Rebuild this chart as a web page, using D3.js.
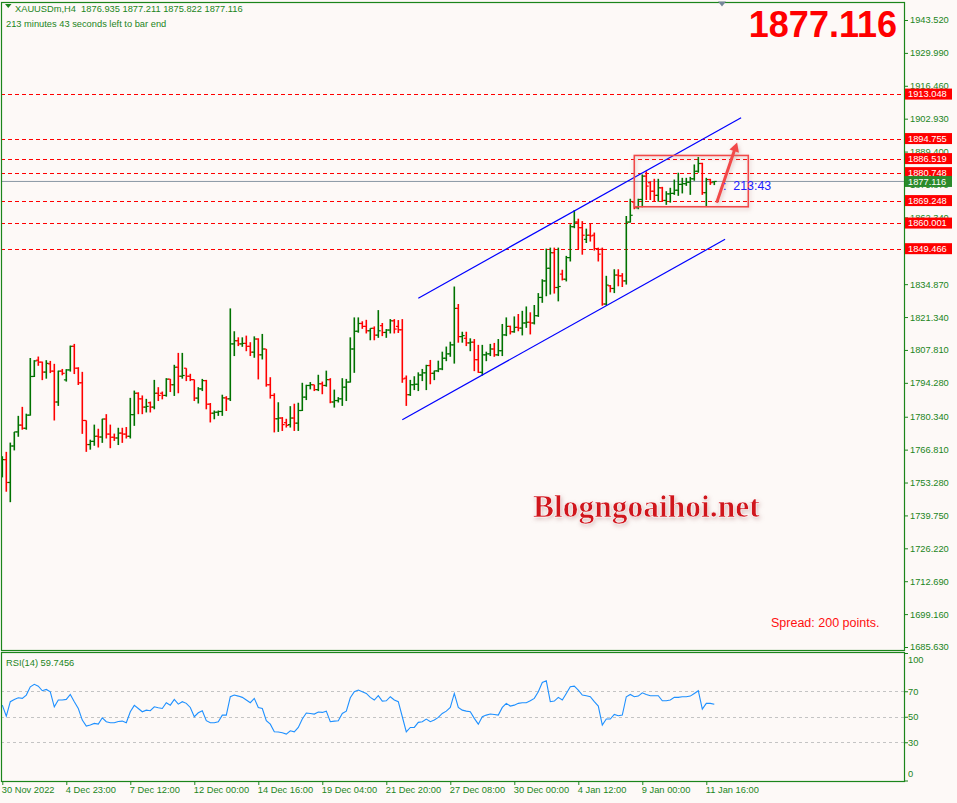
<!DOCTYPE html>
<html>
<head>
<meta charset="utf-8">
<script src="https://cdn.jsdelivr.net/npm/d3@7"></script>
<style>
    body { margin: 0; background: #fdf9f7; }
    svg { display: block; }
</style>
</head>
<body>
<svg id="chart" width="957" height="803"></svg>
<script>
(function () {

    // H4 bars, 30 Nov 2022 -> 11 Jan 2023
    var opens = [
        1757.0, 1762.7, 1753.3, 1768.3, 1774.1, 1776.9, 1775.6, 1781.0, 1796.9, 1803.6,
        1802.8, 1798.7, 1802.1, 1799.1, 1786.4, 1799.1, 1795.5, 1799.6, 1809.3, 1800.3,
        1794.3, 1778.8, 1768.9, 1770.2, 1772.3, 1772.0, 1779.4, 1773.2, 1771.9, 1771.6,
        1773.6, 1773.2, 1772.3, 1781.2, 1790.0, 1787.7, 1784.3, 1786.1, 1784.3, 1790.0,
        1790.0, 1789.1, 1795.8, 1793.5, 1800.7, 1797.0, 1800.3, 1797.0, 1795.6, 1788.0,
        1791.8, 1795.2, 1785.5, 1781.8, 1782.2, 1782.5, 1788.1, 1787.7, 1810.3, 1811.6,
        1810.3, 1810.5, 1809.3, 1806.9, 1812.3, 1805.8, 1808.2, 1793.5, 1789.1, 1779.5,
        1779.8, 1777.9, 1777.1, 1779.8, 1777.7, 1782.9, 1788.4, 1793.2, 1793.5, 1791.5,
        1793.9, 1793.2, 1795.6, 1786.4, 1787.0, 1787.7, 1792.5, 1794.6, 1808.2, 1815.5,
        1818.7, 1817.5, 1815.7, 1816.7, 1813.9, 1817.8, 1815.0, 1816.0, 1819.8, 1817.5,
        1816.1, 1796.2, 1789.4, 1793.5, 1793.7, 1797.5, 1798.4, 1801.4, 1798.2, 1799.2,
        1800.0, 1804.4, 1806.2, 1809.9, 1824.9, 1813.3, 1812.6, 1810.7, 1811.0, 1803.8,
        1798.6, 1805.8, 1806.2, 1808.2, 1805.8, 1807.5, 1814.0, 1817.5, 1815.3, 1817.1,
        1816.8, 1818.9, 1819.2, 1818.9, 1821.9, 1829.4, 1836.2, 1841.4, 1847.8, 1833.5,
        1839.0, 1836.9, 1845.8, 1858.5, 1860.4, 1858.1, 1853.3, 1855.0, 1855.0, 1849.5,
        1849.2, 1826.7, 1834.2, 1833.1, 1838.6, 1838.3, 1836.2, 1860.4, 1868.6, 1866.3,
        1869.7, 1879.3, 1876.6, 1873.1, 1871.4, 1874.5, 1869.3, 1872.0, 1872.2, 1873.5,
        1875.9, 1876.2, 1876.8, 1878.2, 1881.3, 1884.5, 1872.5, 1877.9, 1876.935
    ];
    var highs = [
        1764.1, 1765.9, 1769.7, 1774.1, 1780.7, 1784.4, 1781.6, 1804.5, 1803.6, 1805.1,
        1803.0, 1803.6, 1803.3, 1802.1, 1799.3, 1800.0, 1799.9, 1809.6, 1810.3, 1800.7,
        1798.8, 1778.8, 1770.9, 1777.1, 1775.4, 1779.5, 1781.4, 1777.1, 1773.4, 1775.8,
        1775.8, 1776.1, 1788.1, 1791.1, 1790.4, 1789.1, 1787.7, 1786.6, 1795.5, 1792.5,
        1790.7, 1796.2, 1795.9, 1801.7, 1806.6, 1806.6, 1800.3, 1798.0, 1795.6, 1792.5,
        1795.9, 1795.5, 1786.0, 1782.9, 1782.9, 1789.4, 1788.8, 1824.9, 1815.5, 1813.0,
        1813.0, 1813.7, 1811.0, 1813.4, 1812.6, 1814.4, 1808.2, 1796.6, 1790.0, 1786.3,
        1780.2, 1779.5, 1784.7, 1785.7, 1786.1, 1794.3, 1793.5, 1794.6, 1793.5, 1797.6,
        1794.8, 1799.3, 1796.2, 1791.5, 1788.4, 1796.2, 1795.9, 1813.0, 1821.2, 1821.2,
        1819.6, 1820.2, 1816.7, 1817.5, 1824.2, 1818.9, 1816.4, 1820.5, 1820.5, 1820.1,
        1820.5, 1797.3, 1795.5, 1797.0, 1798.6, 1800.0, 1801.7, 1803.7, 1799.3, 1803.4,
        1807.1, 1809.2, 1811.2, 1833.9, 1826.7, 1815.3, 1815.3, 1812.6, 1812.3, 1809.9,
        1809.9, 1807.1, 1810.3, 1810.7, 1812.3, 1818.5, 1821.2, 1817.8, 1821.6, 1822.6,
        1823.9, 1825.7, 1823.3, 1826.3, 1831.2, 1836.9, 1849.5, 1849.9, 1849.9, 1849.9,
        1840.8, 1846.5, 1859.5, 1865.3, 1861.8, 1860.8, 1857.7, 1859.9, 1856.1, 1849.9,
        1849.9, 1838.3, 1834.5, 1841.0, 1841.0, 1839.4, 1862.9, 1870.0, 1869.0, 1870.0,
        1880.0, 1881.3, 1877.2, 1878.2, 1878.2, 1874.9, 1873.1, 1874.5, 1877.9, 1880.7,
        1878.6, 1878.6, 1879.0, 1884.1, 1887.2, 1884.8, 1878.6, 1878.2, 1877.211
    ];
    var lows = [
        1755.6, 1749.7, 1745.4, 1766.7, 1772.3, 1775.2, 1775.2, 1781.0, 1796.9, 1801.5,
        1795.6, 1796.2, 1798.5, 1779.0, 1785.0, 1797.6, 1795.0, 1799.1, 1798.1, 1793.6,
        1773.5, 1766.1, 1767.0, 1768.6, 1767.9, 1769.8, 1771.6, 1767.6, 1770.6, 1768.9,
        1769.8, 1771.6, 1771.6, 1776.8, 1781.6, 1781.6, 1782.3, 1782.3, 1783.6, 1787.0,
        1787.7, 1788.8, 1790.7, 1789.1, 1790.2, 1796.2, 1795.2, 1795.2, 1787.0, 1786.0,
        1791.1, 1783.6, 1778.2, 1779.5, 1780.9, 1780.9, 1782.9, 1787.0, 1805.5, 1809.6,
        1809.3, 1807.5, 1805.5, 1804.8, 1795.9, 1804.1, 1792.9, 1788.0, 1774.1, 1774.3,
        1774.7, 1776.1, 1776.1, 1774.7, 1774.7, 1782.9, 1787.4, 1791.8, 1791.1, 1791.1,
        1789.8, 1792.9, 1786.1, 1784.3, 1786.4, 1785.0, 1787.0, 1794.6, 1798.6, 1815.1,
        1816.7, 1814.8, 1812.0, 1812.0, 1813.0, 1813.7, 1813.0, 1814.8, 1814.8, 1815.0,
        1794.5, 1785.0, 1789.1, 1791.5, 1791.1, 1795.2, 1791.5, 1793.9, 1795.6, 1798.9,
        1799.7, 1803.4, 1805.2, 1802.4, 1811.0, 1811.0, 1809.6, 1807.5, 1799.3, 1798.6,
        1797.5, 1803.4, 1805.5, 1805.2, 1805.5, 1805.5, 1813.7, 1814.4, 1815.1, 1815.7,
        1814.0, 1817.1, 1814.4, 1818.5, 1821.6, 1827.4, 1830.1, 1830.8, 1831.2, 1828.0,
        1836.6, 1836.2, 1844.4, 1858.1, 1849.5, 1847.2, 1852.0, 1852.6, 1848.9, 1844.4,
        1826.2, 1826.3, 1831.7, 1831.4, 1834.2, 1833.9, 1834.9, 1860.4, 1865.9, 1865.9,
        1866.7, 1869.7, 1869.7, 1869.0, 1869.0, 1869.0, 1867.7, 1868.6, 1871.8, 1871.4,
        1872.4, 1875.5, 1871.8, 1877.6, 1880.9, 1871.8, 1867.0, 1875.9, 1875.822
    ];
    var closes = [
        1762.7, 1753.3, 1768.3, 1774.1, 1776.9, 1775.6, 1781.0, 1796.9, 1803.3, 1802.8,
        1798.7, 1802.3, 1799.1, 1786.4, 1799.1, 1798.2, 1799.6, 1809.3, 1800.3, 1794.3,
        1778.8, 1768.9, 1770.2, 1772.3, 1772.0, 1779.4, 1773.2, 1771.9, 1771.6, 1773.6,
        1773.2, 1772.3, 1781.2, 1790.0, 1787.7, 1784.3, 1784.6, 1784.3, 1790.0, 1789.1,
        1789.1, 1795.8, 1793.5, 1800.7, 1797.0, 1797.3, 1797.0, 1795.6, 1788.0, 1791.8,
        1795.2, 1785.5, 1781.8, 1782.2, 1782.5, 1788.1, 1787.7, 1810.3, 1811.6, 1810.3,
        1810.5, 1809.3, 1806.9, 1812.3, 1805.8, 1808.2, 1793.5, 1789.1, 1779.5, 1779.8,
        1777.1, 1776.8, 1779.8, 1777.7, 1782.9, 1788.4, 1793.2, 1793.5, 1791.5, 1793.9,
        1793.2, 1795.6, 1786.4, 1787.0, 1787.7, 1792.5, 1794.6, 1808.2, 1815.5, 1818.7,
        1817.5, 1815.7, 1816.7, 1813.9, 1815.7, 1815.0, 1816.0, 1819.8, 1816.4, 1816.1,
        1795.9, 1789.4, 1793.5, 1793.7, 1797.5, 1798.4, 1801.4, 1798.2, 1799.2, 1800.0,
        1804.4, 1806.2, 1809.9, 1824.9, 1813.3, 1813.7, 1810.7, 1811.0, 1803.8, 1798.6,
        1805.8, 1806.2, 1808.2, 1805.8, 1807.5, 1814.0, 1817.5, 1815.3, 1817.1, 1816.8,
        1818.9, 1819.2, 1818.9, 1821.9, 1829.4, 1836.2, 1841.4, 1847.8, 1833.5, 1833.9,
        1836.9, 1845.8, 1858.5, 1860.4, 1858.1, 1855.0, 1855.0, 1854.7, 1849.5, 1847.2,
        1826.7, 1834.5, 1833.1, 1838.6, 1838.3, 1836.2, 1860.4, 1863.2, 1866.3, 1869.7,
        1879.3, 1875.2, 1873.1, 1871.4, 1874.5, 1869.3, 1872.0, 1872.2, 1873.5, 1875.9,
        1876.2, 1876.8, 1878.2, 1881.3, 1884.5, 1872.5, 1877.9, 1876.6, 1877.116
    ];
    var rsiValues = [
        59.1, 50.5, 61.8, 63.6, 64.9, 64.4, 67.0, 73.5, 75.4, 74.0,
        70.4, 71.4, 69.6, 57.8, 63.1, 63.1, 63.6, 67.5, 61.8, 56.5,
        47.4, 42.7, 43.5, 44.8, 44.2, 49.2, 46.1, 45.3, 45.3, 46.3,
        46.6, 45.3, 53.9, 58.9, 56.5, 53.9, 55.2, 54.7, 57.8, 57.1,
        56.5, 61.0, 59.1, 63.6, 59.9, 61.8, 60.5, 57.3, 50.0, 53.1,
        54.7, 46.9, 45.3, 45.3, 46.1, 51.3, 51.3, 65.7, 67.0, 66.2,
        65.2, 63.1, 61.0, 64.4, 57.3, 56.5, 46.9, 44.2, 38.2, 38.0,
        37.5, 36.4, 39.0, 38.2, 41.6, 48.2, 52.9, 52.6, 52.1, 53.7,
        53.4, 54.4, 46.1, 46.6, 46.9, 52.6, 54.4, 64.9, 69.6, 70.9,
        69.6, 68.3, 65.2, 63.1, 66.5, 62.3, 62.5, 65.7, 63.1, 61.8,
        50.0, 38.2, 41.6, 41.6, 45.6, 46.1, 48.2, 46.1, 47.4, 49.5,
        52.6, 54.4, 57.3, 68.3, 57.3, 55.2, 54.4, 53.9, 48.7, 44.2,
        50.0, 51.3, 52.1, 51.8, 51.3, 57.3, 60.5, 58.4, 59.1, 60.5,
        61.0, 61.0, 62.5, 64.4, 69.6, 76.9, 78.2, 61.8, 62.3, 65.2,
        63.1, 68.3, 73.5, 74.0, 70.9, 67.0, 66.5, 65.7, 61.8, 58.4,
        43.5, 48.2, 48.2, 51.8, 50.8, 51.3, 65.7, 67.5, 65.7, 66.2,
        68.8, 67.5, 66.5, 66.5, 66.5, 62.5, 62.5, 63.1, 65.2, 65.2,
        65.7, 65.7, 66.2, 68.3, 70.4, 56.0, 60.5, 60.5, 59.7456
    ];

    var priceTicks = [
        '1943.520', '1929.990', '1916.460', '1902.930', '1889.400', '1875.870', '1862.340',
        '1848.810', '1834.870', '1821.340', '1807.810', '1794.280', '1780.340', '1766.810',
        '1753.280', '1739.750', '1726.220', '1712.690', '1699.160', '1685.630'
    ];
    var rsiTicks = [100, 70, 50, 30, 0];
    var rsiLevels = [70, 50, 30];
    var dateIndexes = [0, 16, 32, 48, 64, 80, 96, 112, 128, 144, 160, 176];
    var dateLabels = [
        '30 Nov 2022', '4 Dec 23:00', '7 Dec 12:00', '12 Dec 00:00', '14 Dec 16:00', '19 Dec 04:00',
        '21 Dec 20:00', '27 Dec 08:00', '30 Dec 00:00', '4 Jan 12:00', '9 Jan 00:00', '11 Jan 16:00'
    ];
    var levels = [1913.048, 1894.755, 1886.519, 1880.748, 1869.248, 1860.001, 1849.466];
    // drawn objects, as [bar index, price]
    var channelUpper = [[104, 1829.1], [184.7, 1903.3]];
    var channelLower = [[100, 1779.1], [180.7, 1853.3]];
    var boxCorners = [[158, 1887.8], [186.5, 1866.7]];
    var arrowPoints = [[178.7, 1868.9], [183.7, 1893.1]];

    var sans = '"Liberation Sans", Arial, sans-serif';
    var green = '#1b851b';
    var barGreen = '#007200';
    var red = '#ff0000';
    var left = 1, right = 904, mainTop = 2, mainBottom = 650, rsiTop = 652, rsiBottom = 781;
    var last = closes.length - 1;

    var svg = d3.select('#chart');
    var x = d3.scaleLinear().domain([0, 178]).range([2.3, 714.3]);
    var y = d3.scaleLinear().domain([1685.63, 1943.52]).range([647, 20]);
    var yr = d3.scaleLinear().domain([0, 100]).range([780.5, 653]);

    var defs = svg.append('defs');
    defs.append('clipPath').attr('id', 'mainClip')
        .append('rect').attr('x', left).attr('y', mainTop).attr('width', right - left).attr('height', mainBottom - mainTop);
    defs.append('clipPath').attr('id', 'rsiClip')
        .append('rect').attr('x', left).attr('y', rsiTop).attr('width', right - left).attr('height', rsiBottom - rsiTop);
    var soft = defs.append('filter').attr('id', 'soft')
        .attr('x', '-30%').attr('y', '-30%').attr('width', '160%').attr('height', '160%');
    soft.append('feGaussianBlur').attr('in', 'SourceAlpha').attr('stdDeviation', 2);
    soft.append('feOffset').attr('dx', 1).attr('dy', 2).attr('result', 'blur');
    soft.append('feFlood').attr('flood-color', '#b08080').attr('flood-opacity', 0.45);
    soft.append('feComposite').attr('in2', 'blur').attr('operator', 'in');
    var merge = soft.append('feMerge');
    merge.append('feMergeNode');
    merge.append('feMergeNode').attr('in', 'SourceGraphic');

    svg.append('rect').attr('width', 957).attr('height', 803).attr('fill', '#fdf9f7');

    drawMain();
    drawRsi();
    drawAxes();
    drawTexts();

    function drawMain() {
        var g = svg.append('g').attr('clip-path', 'url(#mainClip)');

        // current bid line
        g.append('line')
            .attr('x1', left).attr('x2', right)
            .attr('y1', y(closes[last])).attr('y2', y(closes[last]))
            .attr('stroke', '#8a97a4').attr('stroke-width', 1);

        g.selectAll('.level').data(levels).enter().append('line')
            .attr('class', 'level')
            .attr('x1', left).attr('x2', right)
            .attr('y1', function (d) { return Math.round(y(d)) + 0.5; })
            .attr('y2', function (d) { return Math.round(y(d)) + 0.5; })
            .attr('stroke', red).attr('stroke-width', 1).attr('stroke-dasharray', '4,3');

        var bars = g.selectAll('.bar').data(closes).enter().append('g').attr('class', 'bar')
            .attr('stroke', function (d, i) { return closes[i] >= opens[i] ? barGreen : red; });
        bars.append('line')
            .attr('x1', function (d, i) { return x(i); }).attr('x2', function (d, i) { return x(i); })
            .attr('y1', function (d, i) { return y(highs[i]); }).attr('y2', function (d, i) { return y(lows[i]) + 0.5; })
            .attr('stroke-width', 1.6);
        bars.append('line')
            .attr('x1', function (d, i) { return x(i) - 2.4; }).attr('x2', function (d, i) { return x(i); })
            .attr('y1', function (d, i) { return y(opens[i]); }).attr('y2', function (d, i) { return y(opens[i]); })
            .attr('stroke-width', 1.2);
        bars.append('line')
            .attr('x1', function (d, i) { return x(i); }).attr('x2', function (d, i) { return x(i) + 2.4; })
            .attr('y1', function (d, i) { return y(closes[i]); }).attr('y2', function (d, i) { return y(closes[i]); })
            .attr('stroke-width', 1.2);

        [channelUpper, channelLower].forEach(function (pts) {
            g.append('line')
                .attr('x1', x(pts[0][0])).attr('y1', y(pts[0][1]))
                .attr('x2', x(pts[1][0])).attr('y2', y(pts[1][1]))
                .attr('stroke', '#0000ff').attr('stroke-width', 1.2);
        });

        g.append('rect')
            .attr('x', x(boxCorners[0][0])).attr('y', y(boxCorners[0][1]))
            .attr('width', x(boxCorners[1][0]) - x(boxCorners[0][0]))
            .attr('height', y(boxCorners[1][1]) - y(boxCorners[0][1]))
            .attr('fill', 'none').attr('stroke', '#f04848').attr('stroke-width', 1.6)
            .attr('filter', 'url(#soft)');

        // arrow with a head at the upper end
        var x0 = x(arrowPoints[0][0]), y0 = y(arrowPoints[0][1]);
        var x1 = x(arrowPoints[1][0]), y1 = y(arrowPoints[1][1]);
        var len = Math.sqrt((x1 - x0) * (x1 - x0) + (y1 - y0) * (y1 - y0));
        var ux = (x1 - x0) / len, uy = (y1 - y0) / len;
        var bx = x1 - ux * 9, by = y1 - uy * 9;
        var arrow = g.append('g').attr('filter', 'url(#soft)');
        arrow.append('line')
            .attr('x1', x0).attr('y1', y0).attr('x2', bx).attr('y2', by)
            .attr('stroke', '#f24a4a').attr('stroke-width', 3).attr('stroke-linecap', 'round');
        arrow.append('path')
            .attr('d', 'M' + x1 + ',' + y1 +
                'L' + (bx - uy * 5) + ',' + (by + ux * 5) +
                'L' + (bx + uy * 5) + ',' + (by - ux * 5) + 'Z')
            .attr('fill', '#f24a4a');

        g.append('text')
            .attr('x', 723).attr('y', y(closes[last]) + 9)
            .attr('fill', '#1c1cff')
            .style('font-family', sans).style('font-size', '12.4px')
            .attr('xml:space', 'preserve')
            .text(':  213:43');
    }

    function drawRsi() {
        var g = svg.append('g').attr('clip-path', 'url(#rsiClip)');
        g.selectAll('.rl').data(rsiLevels).enter().append('line')
            .attr('x1', left).attr('x2', right)
            .attr('y1', function (d) { return Math.round(yr(d)) + 0.5; })
            .attr('y2', function (d) { return Math.round(yr(d)) + 0.5; })
            .attr('stroke', '#c4c4c4').attr('stroke-dasharray', '3,3');

        var line = d3.line()
            .x(function (d, i) { return x(i); })
            .y(function (d) { return yr(d); });
        g.append('path').datum(rsiValues)
            .attr('d', line).attr('fill', 'none')
            .attr('stroke', '#1e90ff').attr('stroke-width', 1.1);
    }

    function drawAxes() {
        var priceAxis = d3.axisRight(y)
            .tickValues(priceTicks.map(Number))
            .tickFormat(function (d, i) { return priceTicks[i]; })
            .tickSize(4).tickSizeOuter(0).tickPadding(2);
        var pa = svg.append('g').attr('transform', 'translate(' + right + ',0)').call(priceAxis);
        styleAxis(pa);

        var rsiAxis = d3.axisRight(yr).tickValues(rsiTicks).tickSize(4).tickSizeOuter(0).tickPadding(0);
        var ra = svg.append('g').attr('transform', 'translate(' + right + ',0)').call(rsiAxis);
        styleAxis(ra);
        ra.selectAll('.tick text').attr('y', function (d) {
            return d === 100 ? 7 : (d === 0 ? -7 : 0);
        });

        var dateAxis = d3.axisBottom(x)
            .tickValues(dateIndexes)
            .tickFormat(function (d, i) { return dateLabels[i]; })
            .tickSize(4).tickSizeOuter(0);
        var da = svg.append('g').attr('transform', 'translate(0,' + rsiBottom + ')').call(dateAxis);
        styleAxis(da);
        da.selectAll('.tick text').attr('text-anchor', 'start').attr('x', -1).attr('y', 5);

        // frames
        [[mainTop, mainBottom], [rsiTop, rsiBottom]].forEach(function (p) {
            svg.append('rect')
                .attr('x', left + 0.5).attr('y', p[0] + 0.5)
                .attr('width', right - left).attr('height', p[1] - p[0])
                .attr('fill', 'none').attr('stroke', green).attr('stroke-width', 1.2);
        });

        // level tags on the price scale
        var tags = svg.selectAll('.tag').data(levels).enter().append('g').attr('class', 'tag');
        tags.append('rect')
            .attr('x', right + 1).attr('y', function (d) { return y(d) - 5.5; })
            .attr('width', 47).attr('height', 11).attr('fill', red);
        tags.append('text')
            .attr('x', right + 4).attr('y', function (d) { return y(d); }).attr('dy', '0.36em')
            .attr('fill', '#fff')
            .style('font-family', sans).style('font-size', '9.3px')
            .text(function (d) { return d.toFixed(3); });

        var bid = svg.append('g');
        bid.append('rect')
            .attr('x', right + 1).attr('y', y(closes[last]) - 5.5)
            .attr('width', 47).attr('height', 11).attr('fill', '#2a8a2a');
        bid.append('text')
            .attr('x', right + 4).attr('y', y(closes[last])).attr('dy', '0.36em')
            .attr('fill', '#fff')
            .style('font-family', sans).style('font-size', '9.3px')
            .text(closes[last].toFixed(3));
    }

    function styleAxis(sel) {
        sel.select('.domain').remove();
        sel.selectAll('.tick line').attr('stroke', green);
        sel.selectAll('.tick text')
            .attr('fill', green)
            .style('font-family', sans)
            .style('font-size', '9.3px');
    }

    function addText(xPos, yPos, str, size, color) {
        return svg.append('text').attr('x', xPos).attr('y', yPos)
            .attr('fill', color)
            .style('font-family', sans).style('font-size', size)
            .attr('xml:space', 'preserve')
            .text(str);
    }

    function drawTexts() {
        svg.append('path').attr('d', 'M5,4 L11.5,4 L8.25,8 Z').attr('fill', green);
        addText(15, 11.5, 'XAUUSDm,H4  ' + opens[last].toFixed(3) + ' ' + highs[last].toFixed(3) + ' ' +
            lows[last].toFixed(3) + ' ' + closes[last].toFixed(3), '9.3px', green);
        addText(6, 26.5, '213 minutes 43 seconds left to bar end', '9.3px', green);
        addText(6, 665.5, 'RSI(14) ' + rsiValues[last].toFixed(4), '9.3px', green);

        svg.append('path').attr('d', 'M718,1.5 L726,1.5 L722,6.5 Z').attr('fill', '#76879a');

        addText(897, 36.7, closes[last].toFixed(3), '36px', red)
            .attr('text-anchor', 'end').style('font-weight', 'bold');

        addText(771, 626.5, 'Spread: 200 points.', '12.5px', '#ff1010');

        svg.append('text').attr('x', 533).attr('y', 517)
            .attr('fill', '#d0141c').attr('stroke', '#ffffff').attr('stroke-width', 0.6)
            .style('font-family', '"Liberation Serif", "Times New Roman", serif')
            .style('font-size', '31.5px').style('font-weight', 'bold')
            .attr('filter', 'url(#soft)')
            .text('Blogngoaihoi.net');
    }

})();
</script>
</body>
</html>
